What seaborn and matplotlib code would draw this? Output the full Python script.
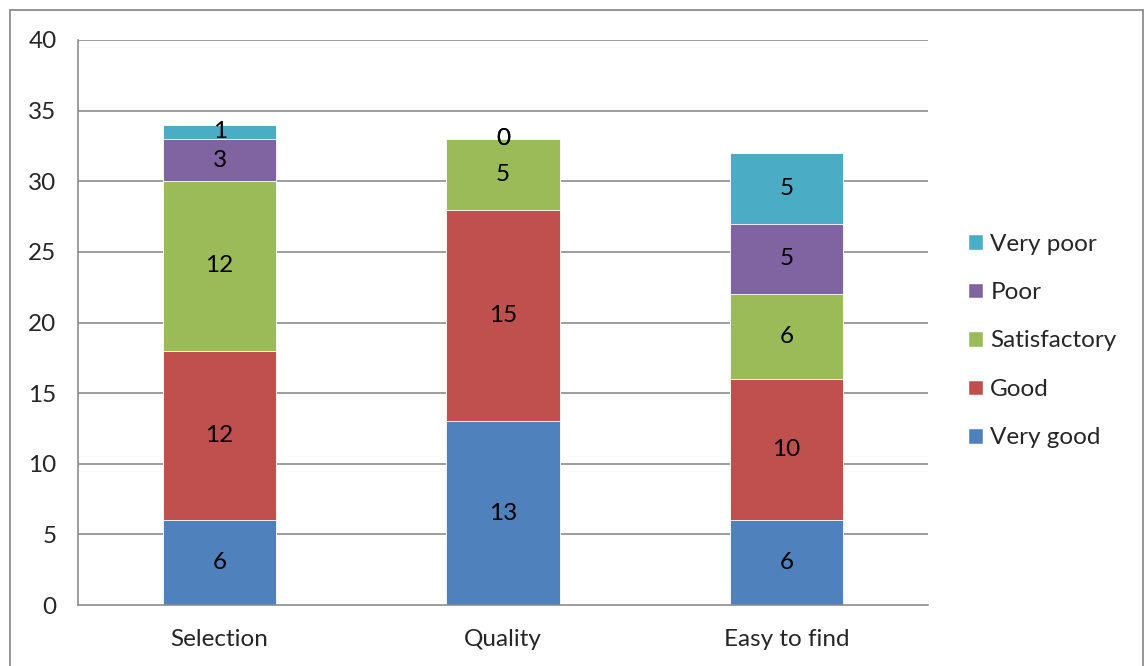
import numpy as np
import pandas as pd
import matplotlib
matplotlib.use("Agg")
import matplotlib.pyplot as plt
from matplotlib.patches import Rectangle, Patch
import seaborn as sns

categories = ["Selection", "Quality", "Easy to find"]
levels = ["Very good", "Good", "Satisfactory", "Poor", "Very poor"]
very_good = [6, 13, 6]
good = [12, 15, 10]
satisfactory = [12, 5, 6]
poor = [3, 0, 5]
very_poor = [1, 0, 5]
colors = ["#4F81BD", "#C0504D", "#9BBB59", "#8064A2", "#4BACC6"]

series = [very_good, good, satisfactory, poor, very_poor]
FS = 17.5

sns.set_theme(style="white")
plt.rcParams["font.family"] = ["Lato", "DejaVu Sans"]

fig = plt.figure(figsize=(11.44, 6.66), dpi=100)
ax = fig.add_axes([78 / 1144, 1 - 605 / 666, (928 - 78) / 1144, (605 - 40) / 666])

# outer chart frame
fig.patches.append(Rectangle((10 / 1144, -0.05), (1143 - 10) / 1144, 1 - 10 / 666 + 0.05,
                             transform=fig.transFigure, fill=False,
                             edgecolor="#8C8C8C", linewidth=1.3, zorder=0))

grid_c = "#8C8C8C"
for y in range(5, 45, 5):
    ax.axhline(y, color=grid_c, linewidth=1.2, zorder=0)

# stacked bars: draw cumulative totals from the top level down
cum = np.cumsum(np.array(series), axis=0)
for i in range(len(levels) - 1, -1, -1):
    df = pd.DataFrame({"cat": categories, "val": cum[i]})
    sns.barplot(data=df, x="cat", y="val", color=colors[i], saturation=1,
                width=0.4, ax=ax, edgecolor="white", linewidth=0.6, zorder=2)

# value labels centred in each segment
for i, vals in enumerate(series):
    for j, v in enumerate(vals):
        mid = cum[i][j] - v / 2
        ax.text(j, mid, str(v), ha="center", va="center", fontsize=FS,
                color="black", zorder=3)

ax.set_xlim(-0.5, 2.5)
ax.set_ylim(0, 40)
ax.set_yticks(range(0, 45, 5))
ax.set_xlabel("")
ax.set_ylabel("")
ax.set_xticks(range(3))
ax.set_xticklabels(categories)
ax.set_xticks([-0.5, 0.5, 1.5, 2.5], minor=True)
ax.tick_params(axis="x", which="major", length=0, pad=17, labelsize=FS)
ax.tick_params(axis="x", which="minor", length=7, width=1.2, color=grid_c, direction="out")
ax.tick_params(axis="y", length=6, width=1.2, color=grid_c, direction="out",
               labelsize=FS, pad=9.5)
for s in ["top", "right"]:
    ax.spines[s].set_visible(False)
for s in ["left", "bottom"]:
    ax.spines[s].set_color(grid_c)
    ax.spines[s].set_linewidth(1.2)

handles = [Patch(facecolor=colors[i], label=levels[i]) for i in range(len(levels) - 1, -1, -1)]
fig.legend(handles=handles, loc="center left", bbox_to_anchor=(968 / 1144, 1 - 341 / 666),
           frameon=False, fontsize=FS, handlelength=0.62, handleheight=0.62,
           handletextpad=0.3, labelspacing=1.13, borderpad=0, borderaxespad=0)

fig.savefig("out.png", dpi=100, facecolor="white")
